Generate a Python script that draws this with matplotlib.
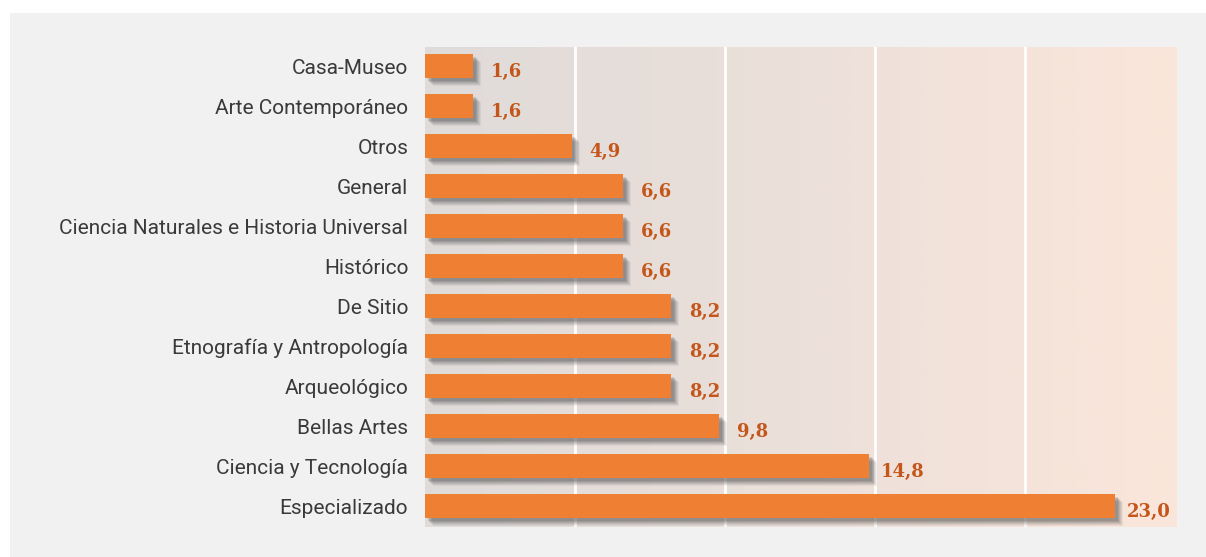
"""Horizontal bar chart: museum types (%)."""
import matplotlib
matplotlib.use("Agg")
import matplotlib.pyplot as plt
import matplotlib.transforms as mtransforms
from matplotlib.colors import LinearSegmentedColormap
from matplotlib.patches import Rectangle
import numpy as np

categories = [
    "Casa-Museo",
    "Arte Contemporáneo",
    "Otros",
    "General",
    "Ciencia Naturales e Historia Universal",
    "Histórico",
    "De Sitio",
    "Etnografía y Antropología",
    "Arqueológico",
    "Bellas Artes",
    "Ciencia y Tecnología",
    "Especializado",
]
values = [1.6, 1.6, 4.9, 6.6, 6.6, 6.6, 8.2, 8.2, 8.2, 9.8, 14.8, 23.0]
labels = ["1,6", "1,6", "4,9", "6,6", "6,6", "6,6", "8,2", "8,2", "8,2", "9,8", "14,8", "23,0"]

BAR = "#ee7f33"
LABEL = "#c4561b"
PANEL = "#f1f1f1"

W, H, DPI = 1206, 557, 100
fig = plt.figure(figsize=(W / DPI, H / DPI), dpi=DPI, facecolor="white")
# grey panel behind everything
fig.patches.append(Rectangle((10 / W, 0), 1 - 10 / W, 1 - 13 / H,
                             transform=fig.transFigure, facecolor=PANEL,
                             edgecolor="none", zorder=-10))

ax = fig.add_axes([425 / W, 30 / H, 752 / W, 480 / H])
xmax = 752 / 30

# background gradient
cmap = LinearSegmentedColormap.from_list("bg", ["#dfdbd9", "#ece0da", "#fbe6da"])
grad = np.linspace(0, 1, 256)[None, :]
ax.imshow(grad, cmap=cmap, aspect="auto", extent=[0, xmax, len(categories), -1],
          zorder=0)
ax.set_xlim(0, xmax)
ax.set_ylim(len(categories) - 0.5 + 0.025, -0.475)

for x in (5, 10, 15, 20):
    ax.axvline(x, color="white", lw=2, zorder=1)

y = np.arange(len(categories))
h = 0.58

# soft drop shadow: stacked translucent copies shifted down/right
for k, a in [(8, 0.08), (7, 0.10), (6, 0.12), (5, 0.15), (4, 0.18), (3, 0.2)]:
    off = mtransforms.ScaledTranslation(k / DPI, -k / DPI, fig.dpi_scale_trans)
    ax.barh(y, values, height=h, color="#5a5a5a", alpha=a, zorder=2,
            transform=ax.transData + off, linewidth=0)

ax.barh(y, values, height=h, color=BAR, zorder=3, linewidth=0)

for yi, v, lab in zip(y, values, labels):
    ax.annotate(lab, (v, yi), xytext=(24, -4), textcoords="offset points",
                ha="center", va="center", color=LABEL, fontsize=13,
                fontweight="bold", family="DejaVu Serif", zorder=4)

ax.set_yticks(y)
ax.set_yticklabels(categories, fontsize=15, color="#3a3a3a", family="Roboto")
ax.tick_params(axis="y", length=0, pad=12)
ax.set_xticks([])
for s in ax.spines.values():
    s.set_visible(False)

fig.savefig("out.png", dpi=DPI, facecolor="white")
